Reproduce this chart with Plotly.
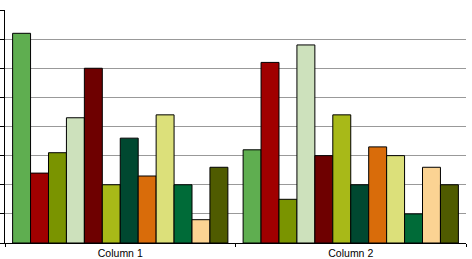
import plotly.graph_objects as go

categories = ["Column 1", "Column 2"]
series_names = [f"Series {i}" for i in range(1, 13)]
values = [
    [7.2, 3.2],
    [2.4, 6.2],
    [3.1, 1.5],
    [4.3, 6.8],
    [6.0, 3.0],
    [2.0, 4.4],
    [3.6, 2.0],
    [2.3, 3.3],
    [4.4, 3.0],
    [2.0, 1.0],
    [0.8, 2.6],
    [2.6, 2.0],
]
colors = ["#5FAE50", "#A00000", "#7A9400", "#CDE1BC", "#6E0000", "#A8B918",
          "#004830", "#D96C0A", "#DCE07A", "#006B38", "#FBD393", "#4F5B00"]

fig = go.Figure()
for name, vals, col in zip(series_names, values, colors):
    fig.add_trace(go.Bar(x=categories, y=vals, name=name,
                         marker=dict(color=col, line=dict(color="black", width=1))))

fig.update_layout(
    width=472, height=259,
    margin=dict(l=5, r=6, t=10, b=16, autoexpand=False),
    paper_bgcolor="white", plot_bgcolor="white",
    barmode="group", bargap=0.066, bargroupgap=0,
    showlegend=False,
    font=dict(family="Liberation Sans, Arial", size=10.5, color="black"),
)
fig.update_yaxes(range=[0, 8], dtick=1, showticklabels=False,
                 ticks="outside", ticklen=4, tickcolor="black",
                 showgrid=True, gridcolor="#999999", gridwidth=1,
                 showline=True, linecolor="black", linewidth=1, zeroline=False,
                 automargin=False)
fig.update_xaxes(showline=True, linecolor="black", linewidth=1,
                 ticks="outside", tickson="boundaries", ticklen=3, tickcolor="black",
                 showgrid=False, automargin=False, ticklabelstandoff=0)

fig.write_html("out.html")
